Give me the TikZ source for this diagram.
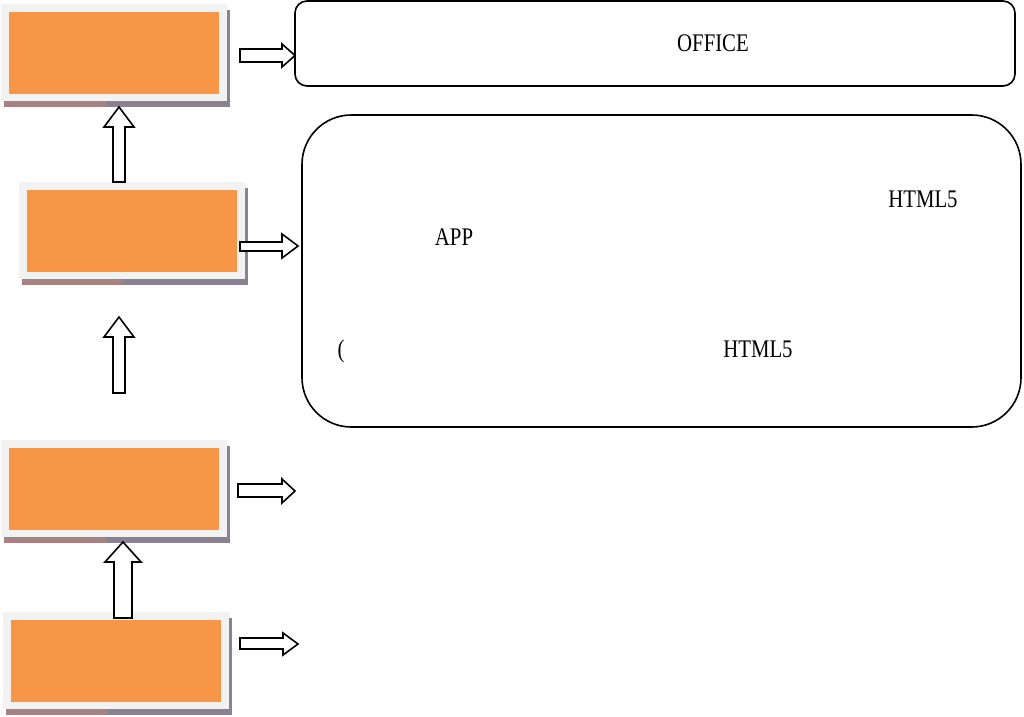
\documentclass[tikz,border=0pt]{standalone}
\usepackage{fontspec}
\setmainfont{Liberation Serif}[FakeStretch=0.82]
\usetikzlibrary{fit}
\definecolor{boxgray}{HTML}{F2F2F2}
\definecolor{boxorange}{HTML}{F79646}
\definecolor{shadowpink}{HTML}{A88282}
\definecolor{shadowpurple}{HTML}{898290}
\tikzset{
  blockarrow/.style={draw=black, fill=white, line width=1.2pt, line join=miter},
  roundbox/.style={draw=black, line width=1.2pt, inner sep=0pt},
  label/.style={font=\fontsize{19}{22}\selectfont, inner sep=0pt, anchor=base},
  graypanel/.style={fill=boxgray, draw=none, inner sep=0pt},
  orangepanel/.style={fill=boxorange, draw=none, inner sep=0pt},
}
\newcommand\stagebox[3]{% name, left x, top y
  \fill[shadowpink] (#2+3,#3+6) rectangle (#2+105,#3+103);
  \fill[shadowpurple] (#2+105,#3+6) rectangle (#2+229,#3+103);
  \node[graypanel, fit={(#2,#3) (#2+226,#3+97)}] (#1) {};
  \node[orangepanel, fit={(#2+8,#3+8) (#2+218,#3+90)}] (#1in) {};
}
\begin{document}
\begin{tikzpicture}[x=0.75pt,y=-0.75pt]
\useasboundingbox (0,0) rectangle (1024,717);
% stage boxes
\stagebox{s1}{1}{4}
\stagebox{s2}{19}{182}
\stagebox{s3}{1}{440}
\stagebox{s4}{3}{612}
% up arrows
\draw[blockarrow] (113,182) -- (113,127) -- (104,127) -- (119,107) -- (134,127) -- (125,127) -- (125,182) -- cycle;
\draw[blockarrow] (113,393) -- (113,337) -- (104,337) -- (119,317) -- (134,337) -- (125,337) -- (125,393) -- cycle;
\draw[blockarrow] (114,618) -- (114,562) -- (105,562) -- (123,542) -- (141,562) -- (132,562) -- (132,618) -- cycle;
% right arrows
\draw[blockarrow] (240,49) -- (282,49) -- (282,44) -- (295,55.5) -- (282,67) -- (282,62) -- (240,62) -- cycle;
\draw[blockarrow] (240,242) -- (282,242) -- (282,234) -- (298,246) -- (282,258) -- (282,251) -- (240,251) -- cycle;
\draw[blockarrow] (238,484) -- (282,484) -- (282,479) -- (295,491) -- (282,503) -- (282,497) -- (238,497) -- cycle;
\draw[blockarrow] (240,638) -- (283,638) -- (283,633) -- (298,644) -- (283,655) -- (283,649) -- (240,649) -- cycle;
% description boxes
\node[roundbox, rounded corners=9pt, fit={(295,1) (1015,86)}] (office) {};
\node[roundbox, rounded corners=37pt, fit={(302,115) (1021,427)}] (web) {};
% texts
\node[label] (t1) at (713,52) {OFFICE};
\node[label] (t2) at (923,207) {HTML5};
\node[label] (t3) at (454,245) {APP};
\node[label] (t4) at (341,357) {(};
\node[label] (t5) at (758,357) {HTML5};
\end{tikzpicture}
\end{document}
